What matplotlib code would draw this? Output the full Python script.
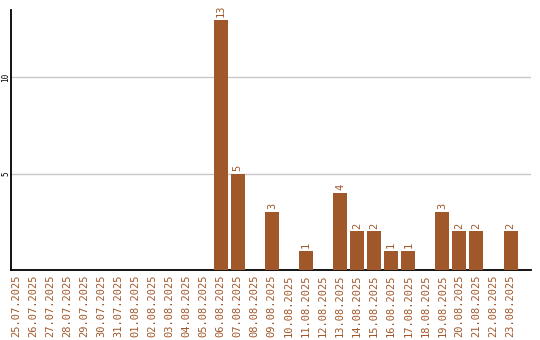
import numpy as np
import matplotlib
matplotlib.use('Agg')
import matplotlib.pyplot as plt

# daily counts, 25.07.2025 - 23.08.2025
dates = ['25.07.2025', '26.07.2025', '27.07.2025', '28.07.2025', '29.07.2025',
         '30.07.2025', '31.07.2025', '01.08.2025', '02.08.2025', '03.08.2025',
         '04.08.2025', '05.08.2025', '06.08.2025', '07.08.2025', '08.08.2025',
         '09.08.2025', '10.08.2025', '11.08.2025', '12.08.2025', '13.08.2025',
         '14.08.2025', '15.08.2025', '16.08.2025', '17.08.2025', '18.08.2025',
         '19.08.2025', '20.08.2025', '21.08.2025', '22.08.2025', '23.08.2025']
counts = [0, 0, 0, 0, 0, 0, 0, 0, 0, 0, 0, 0,
          13, 5, 0, 3, 0, 1, 0, 4, 2, 2, 1, 1, 0, 3, 2, 2, 0, 2]
yticks = [5, 10]

brown = '#a0572a'
mono = 'DejaVu Sans Mono'

fig = plt.figure(figsize=(5.4, 3.4), dpi=100)
ax = fig.add_axes([11/540, 70/340, 520/540, 260/340])

x = np.arange(len(dates))
bars = ax.bar(x, counts, width=0.82, color=brown, zorder=3)

# value labels above non-empty bars
for xi, c in zip(x, counts):
    if c > 0:
        ax.text(xi, c + 0.15, str(c), rotation=90, ha='center', va='bottom',
                color=brown, fontsize=7.5, family=mono)

ax.set_xlim(-0.3, 30.2)
ax.set_ylim(0, 13.5)

ax.set_xticks(x)
ax.set_xticklabels(dates, rotation=90, color=brown, fontsize=7.5, family=mono)
ax.set_yticks(yticks)
ax.set_yticklabels([str(v) for v in yticks], rotation=90, va='center',
                   fontsize=5.5, family=mono)
ax.tick_params(axis='x', length=0, pad=3)
ax.tick_params(axis='y', length=0, pad=0.5)

ax.grid(axis='y', color='#c8c8c8', linewidth=1, zorder=0)
ax.spines['top'].set_visible(False)
ax.spines['right'].set_visible(False)
ax.spines['left'].set_linewidth(1.3)
ax.spines['bottom'].set_linewidth(1.3)

plt.savefig('out.png', dpi=100)
plt.close()
